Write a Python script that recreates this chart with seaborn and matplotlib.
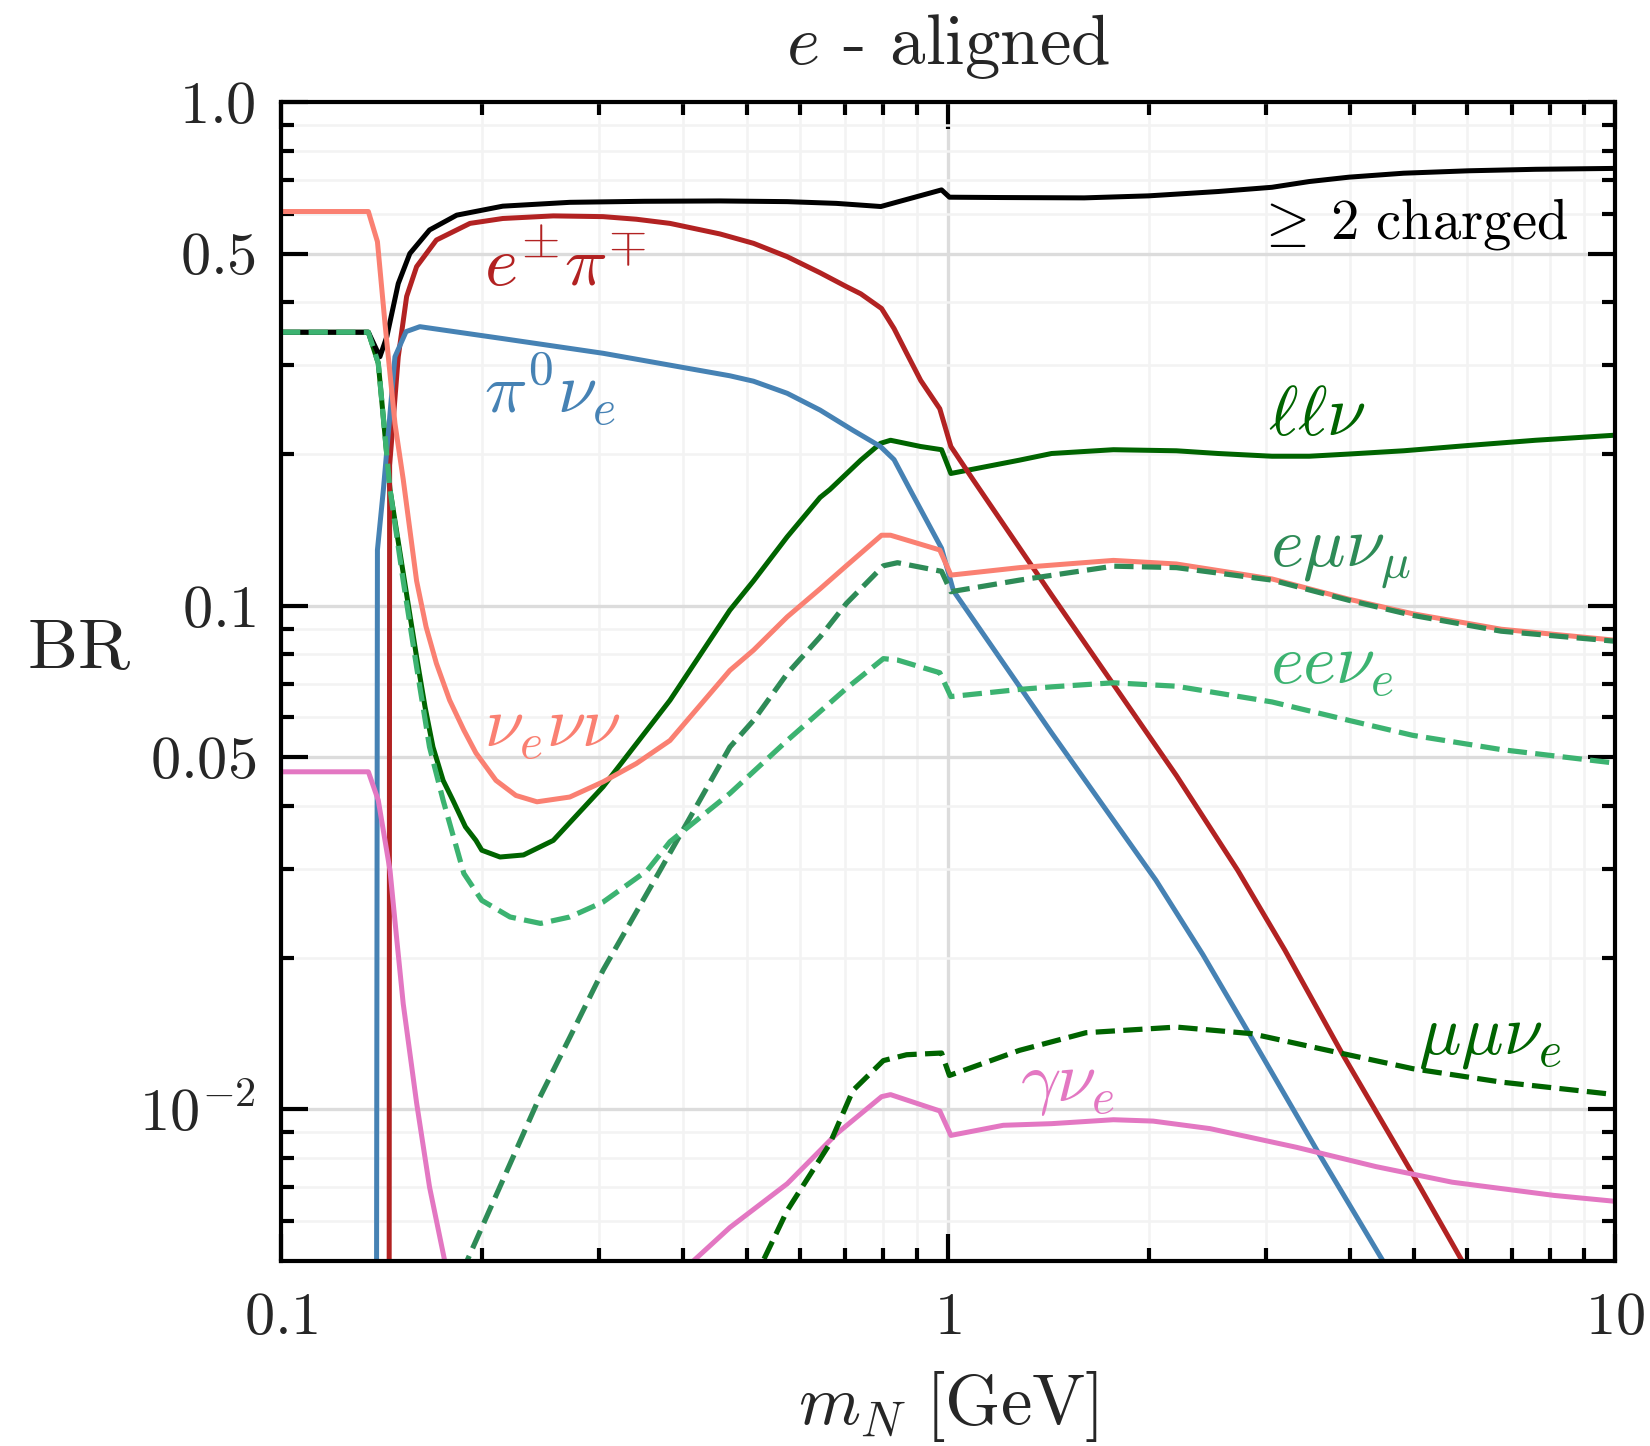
import matplotlib
matplotlib.use("Agg")
import matplotlib.pyplot as plt
import seaborn as sns
import pandas as pd
from matplotlib.ticker import FixedLocator, FixedFormatter, NullFormatter

# ---------------- data: branching ratios of an e-aligned heavy neutral lepton ----------------
# >= 2 charged particles
m_charged = [0.1, 0.1352, 0.1407, 0.1441, 0.1499, 0.156, 0.167, 0.1834, 0.215, 0.271, 0.35,
             0.455, 0.574, 0.68, 0.793, 0.978, 1.005, 1.2, 1.6, 2.0, 2.54, 3.06, 3.48, 3.99,
             4.82, 6.03, 7.6, 10.0]
br_charged = [0.349, 0.349, 0.312, 0.342, 0.436, 0.50, 0.557, 0.596, 0.621, 0.632, 0.635,
              0.636, 0.634, 0.629, 0.620, 0.669, 0.647, 0.646, 0.645, 0.651, 0.664, 0.677, 0.695, 0.709,
              0.722, 0.730, 0.735, 0.738]

# e pi
m_epi = [0.1449, 0.1455, 0.1499, 0.1543, 0.1597, 0.171, 0.192, 0.215, 0.256, 0.304, 0.341,
         0.383, 0.455, 0.511, 0.574, 0.643, 0.704, 0.74, 0.795, 0.83, 0.867, 0.91, 0.972, 1.01,
         1.09, 1.43, 2.2, 2.72, 3.2, 3.9, 4.97, 5.9, 6.3]
br_epi = [1e-5, 0.19, 0.312, 0.411, 0.471, 0.532, 0.574, 0.587, 0.594, 0.592, 0.585,
          0.574, 0.547, 0.524, 0.493, 0.458, 0.430, 0.416, 0.389, 0.355, 0.317, 0.280, 0.246, 0.207,
          0.178, 0.105, 0.046, 0.0298, 0.0207, 0.0129, 0.00745, 0.0050, 0.0042]

# pi0 nu_e
m_pi0 = [0.1383, 0.1395, 0.1424, 0.1482, 0.154, 0.1615, 0.215, 0.304, 0.471, 0.511, 0.574,
         0.643, 0.72, 0.792, 0.83, 0.877, 0.978, 1.019, 1.43, 2.05, 2.41, 2.85, 3.6, 4.49, 4.7]
br_pi0 = [1e-5, 0.129, 0.17, 0.312, 0.350, 0.358, 0.339, 0.317, 0.286, 0.279, 0.264,
          0.2445, 0.223, 0.207, 0.195, 0.170, 0.130, 0.107, 0.0559, 0.0285, 0.0203, 0.0139,
          0.00816, 0.0050, 0.0043]

# l l nu (all charged-lepton pairs)
m_llnu = [0.1, 0.1352, 0.1399, 0.1457, 0.1525, 0.1597, 0.1644, 0.169, 0.175, 0.181, 0.189,
          0.196, 0.2, 0.213, 0.231, 0.256, 0.304, 0.383, 0.471, 0.511, 0.574, 0.643, 0.665,
          0.74, 0.792, 0.82, 0.91, 0.978, 1.01, 1.28, 1.43, 1.77, 2.2, 2.54, 3.06, 3.48, 3.99,
          4.82, 6.03, 7.6, 10.0]
br_llnu = [0.349, 0.349, 0.303, 0.17, 0.116, 0.0791, 0.063, 0.0524, 0.045, 0.0411, 0.0364,
           0.0342, 0.0327, 0.0317, 0.0320, 0.0342, 0.0437, 0.0649, 0.098, 0.112, 0.137, 0.164, 0.170,
           0.1945, 0.210, 0.213, 0.207, 0.204, 0.183, 0.1945, 0.2005, 0.204, 0.203, 0.2005, 0.198,
           0.198, 0.200, 0.203, 0.208, 0.213, 0.218]

# nu_e nu nu
m_3nu = [0.1, 0.1352, 0.1395, 0.1432, 0.1482, 0.1525, 0.1597, 0.165, 0.171, 0.179, 0.188, 0.196,
         0.21, 0.225, 0.242, 0.271, 0.304, 0.341, 0.383, 0.471, 0.511, 0.574, 0.643, 0.704, 0.795,
         0.82, 0.972, 1.01, 1.28, 1.77, 2.2, 3.06, 3.99, 4.97, 6.75, 10.0]
br_3nu = [0.606, 0.606, 0.528, 0.363, 0.230, 0.178, 0.112, 0.0908, 0.0768, 0.0649, 0.0566, 0.0510,
          0.0450, 0.0420, 0.0408, 0.0417, 0.0447, 0.0486, 0.0540, 0.0744, 0.0816, 0.095, 0.108,
          0.120, 0.138, 0.138, 0.129, 0.115, 0.119, 0.123, 0.121, 0.113, 0.103, 0.0964, 0.0898, 0.0854]

# gamma nu_e
m_gnu = [0.1, 0.1352, 0.1399, 0.1457, 0.149, 0.1525, 0.1597, 0.167, 0.176, 0.18, 0.39, 0.415,
         0.471, 0.574, 0.681, 0.795, 0.82, 0.972, 1.01, 1.21, 1.43, 1.77, 2.03, 2.47, 3.33, 4.38,
         5.7, 8.1, 10.0]
br_gnu = [0.0468, 0.0468, 0.0411, 0.0298, 0.0220, 0.0162, 0.0103, 0.00701, 0.0050, 0.0043, 0.0043,
          0.0050, 0.00583, 0.00712, 0.00895, 0.0106, 0.0107, 0.00993, 0.00888, 0.0093, 0.00937,
          0.00954, 0.00948, 0.00916, 0.00841, 0.0077, 0.00717, 0.00675, 0.00657]

# e mu nu_mu
m_emunu = [0.18, 0.19, 0.215, 0.242, 0.271, 0.304, 0.37, 0.471, 0.511, 0.574, 0.643, 0.704,
           0.8, 0.84, 0.978, 1.01, 1.28, 1.77, 2.2, 3.06, 3.99, 4.97, 6.75, 10.0]
br_emunu = [0.0042, 0.0050, 0.00723, 0.0103, 0.0139, 0.0189, 0.0298, 0.0524, 0.0592, 0.0733,
            0.0867, 0.101, 0.120, 0.1217, 0.117, 0.1066, 0.1124, 0.1198, 0.119, 0.1124, 0.1025,
            0.0957, 0.089, 0.085]

# e e nu_e
m_eenu = [0.1, 0.1352, 0.1399, 0.1457, 0.1525, 0.1597, 0.167, 0.175, 0.188, 0.2, 0.2205, 0.245,
          0.271, 0.304, 0.354, 0.383, 0.471, 0.574, 0.704, 0.8, 0.84, 0.972, 1.01, 1.28, 1.43,
          1.77, 2.2, 3.06, 3.99, 4.97, 6.75, 10.0]
br_eenu = [0.349, 0.349, 0.303, 0.17, 0.112, 0.0756, 0.0524, 0.0411, 0.0294, 0.0260, 0.0241, 0.0234,
           0.0241, 0.0258, 0.0298, 0.0340, 0.0424, 0.0540, 0.0685, 0.0785, 0.0780, 0.0736, 0.0660,
           0.0682, 0.0690, 0.0703, 0.0692, 0.0644, 0.0592, 0.0553, 0.0518, 0.0487]

# mu mu nu_e
m_mumunu = [0.45, 0.528, 0.574, 0.665, 0.72, 0.8, 0.867, 0.978, 1.005, 1.28, 1.61, 2.2, 2.85,
            3.81, 4.97, 6.75, 10.0]
br_mumunu = [0.0032, 0.0050, 0.0063, 0.00855, 0.0109, 0.0125, 0.01284, 0.01294, 0.01168, 0.0131,
             0.0142, 0.01457, 0.01414, 0.0130, 0.01205, 0.01133, 0.0107]

x_ticks = [0.1, 1.0, 10.0]
x_ticklabels = [r"$0.1$", r"$1$", r"$10$"]
y_ticks = [0.01, 0.05, 0.1, 0.5, 1.0]
y_ticklabels = [r"$10^{-2}$", r"$0.05$", r"$0.1$", r"$0.5$", r"$1.0$"]

# (mass, BR, colour, linestyle, label, label size, label position)
channels = [
    (m_llnu, br_llnu, "darkgreen", "-", r"$\ell\ell\nu$", 17, (3.02, 0.218)),
    (m_charged, br_charged, "black", "-", r"$\geq\:\mathrm{2\ charged}$", 13.6, (2.90, 0.536)),
    (m_epi, br_epi, "firebrick", "-", r"$e^{\pm}\pi^{\mp}$", 17, (0.2016, 0.431)),
    (m_pi0, br_pi0, "steelblue", "-", r"$\pi^0\nu_e$", 17, (0.2016, 0.241)),
    (m_3nu, br_3nu, "salmon", "-", r"$\nu_e\nu\nu$", 17, (0.2016, 0.0524)),
    (m_gnu, br_gnu, "tab:pink", "-", r"$\gamma\nu_e$", 17, (1.28, 0.0104)),
    (m_emunu, br_emunu, "seagreen", "--", r"$e\mu\nu_\mu$", 17, (3.04, 0.120)),
    (m_eenu, br_eenu, "mediumseagreen", "--", r"$ee\nu_e$", 17, (3.04, 0.070)),
    (m_mumunu, br_mumunu, "darkgreen", "--", r"$\mu\mu\nu_e$", 17, (5.07, 0.0129)),
]

# ---------------- style ----------------
sns.set_theme(style="ticks")
plt.rcParams.update({
    "font.family": "serif",
    "font.serif": ["cmr10"],
    "mathtext.fontset": "cm",
    "axes.formatter.use_mathtext": True,
    "axes.unicode_minus": False,
})

fig, ax = plt.subplots(figsize=(5.5, 4.82), dpi=300)
fig.subplots_adjust(left=0.1703, right=0.9788, top=0.9295, bottom=0.1279)
ax.set_xscale("log")
ax.set_yscale("log")

for m, br, col, ls, lab, fs, pos in channels:
    df = pd.DataFrame({"m": m, "br": br})
    sns.lineplot(data=df, x="m", y="br", ax=ax, color=col, linestyle=ls,
                 lw=1.25 if ls == "--" else 1.2, estimator=None, sort=False,
                 legend=False)
    ax.text(pos[0], pos[1], lab, color=col, fontsize=fs, ha="left", va="baseline")

ax.set_xlim(0.1, 10)
ax.set_ylim(0.005, 1.0)

ax.xaxis.set_major_locator(FixedLocator(x_ticks))
ax.xaxis.set_major_formatter(FixedFormatter(x_ticklabels))
ax.xaxis.set_minor_locator(FixedLocator([k * 10.0 ** e for e in (-1, 0) for k in range(2, 10)]))
ax.xaxis.set_minor_formatter(NullFormatter())
ax.yaxis.set_major_locator(FixedLocator(y_ticks))
ax.yaxis.set_major_formatter(FixedFormatter(y_ticklabels))
ax.yaxis.set_minor_locator(FixedLocator([k * 10.0 ** e for e in (-3, -2, -1)
                                         for k in (2, 3, 4, 6, 7, 8, 9)]))
ax.yaxis.set_minor_formatter(NullFormatter())

ax.set_axisbelow(True)
ax.grid(which="major", color="#dcdcdc", lw=0.8)
ax.grid(which="minor", color="#f3f3f3", lw=0.6)

ax.tick_params(which="both", direction="in", top=True, right=True, width=1.0,
               color="black", labelsize=14.5)
ax.tick_params(axis="x", pad=7.5)
ax.tick_params(axis="y", pad=6)
ax.tick_params(which="major", length=6.5)
ax.tick_params(which="minor", length=3.2)
for s in ax.spines.values():
    s.set_color("black")
    s.set_linewidth(1.0)

ax.set_title(r"$e$ - aligned", fontsize=17, pad=9)
ax.set_xlabel(r"$m_N\ [\mathrm{GeV}]$", fontsize=17, labelpad=5.5)
ax.set_ylabel(r"$\mathrm{BR}$", fontsize=17, rotation=0, va="center", ha="center")
ax.yaxis.set_label_coords(-0.1514, 0.526)

fig.savefig("out.png", dpi=300)
